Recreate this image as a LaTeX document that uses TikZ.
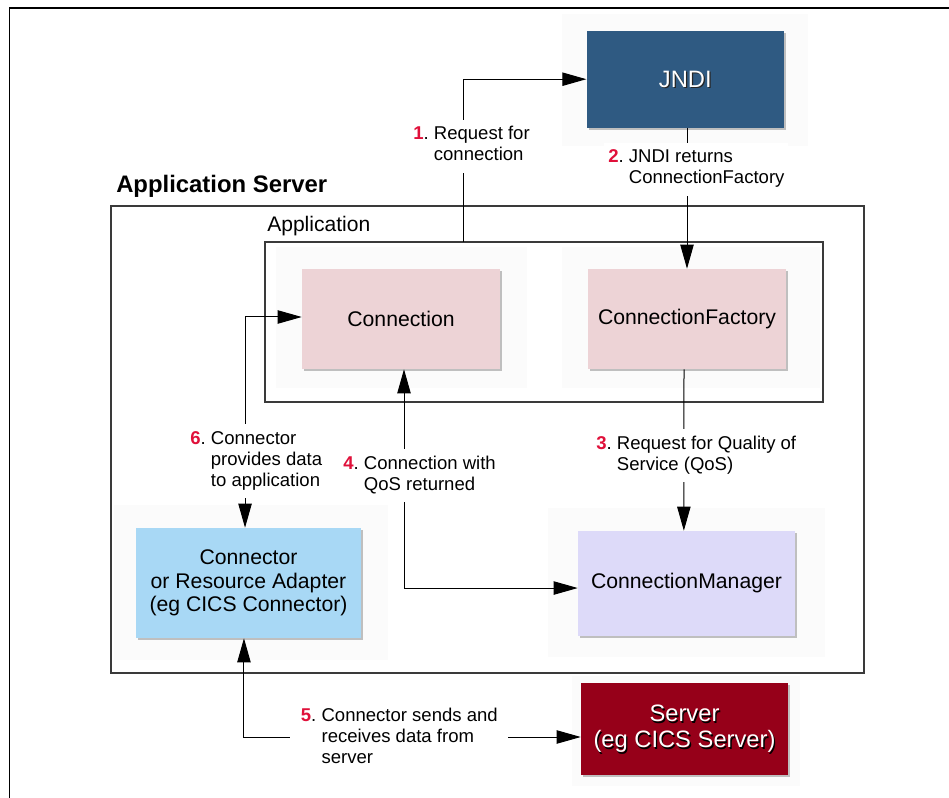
\documentclass[tikz,border=0pt]{standalone}
\usepackage{fontspec}
\setmainfont{Liberation Sans}
\usetikzlibrary{arrows.meta,shadows}
\definecolor{jndiblue}{HTML}{2F5A82}
\definecolor{pinkbox}{HTML}{EDD3D6}
\definecolor{lavbox}{HTML}{DDDAF9}
\definecolor{bluebox}{HTML}{A8D8F5}
\definecolor{serverred}{HTML}{960019}
\definecolor{numred}{HTML}{E0103A}
\definecolor{halogray}{HTML}{FBFBFB}
\definecolor{framegray}{HTML}{3A3A3A}
\newcommand{\stepnum}[1]{\textcolor{numred}{\textbf{#1}}.\kern0.28em}
\tikzset{
  halo/.style={fill=halogray, draw=none},
  frame/.style={draw=framegray, line width=1pt, inner sep=0pt},
  box/.style={draw=none, inner sep=0pt, align=center,
    font=\fontsize{15.9}{17.6}\selectfont,
    drop shadow={shadow xshift=1.6pt, shadow yshift=-1.6pt, opacity=0.4, fill=black!60}},
  bigtext/.style={font=\fontsize{17.8}{19.5}\selectfont, align=center, inner sep=0pt},
  conn/.style={draw=black, line width=0.75pt},
  arr/.style={conn, -{Triangle[length=18pt,width=10pt]}},
  arrboth/.style={conn, {Triangle[length=18pt,width=10pt]}-{Triangle[length=18pt,width=10pt]}},
  lab/.style={fill=white, inner xsep=3pt, inner ysep=4pt, anchor=base west,
    font=\fontsize{13.9}{15.75}\selectfont}
}
\begin{document}
\begin{tikzpicture}[x=0.75pt,y=-0.75pt]
\useasboundingbox (0,0) rectangle (949,798);
% outer frame (cut by the page)
\draw[line width=1.1pt] (9.5,798) -- (9.5,8) -- (949,8);

% faint halos
\fill[halo] (562,14) rectangle (808,146);
\fill[halo] (276,247) rectangle (527,388);
\fill[halo] (562,247) rectangle (820,388);
\fill[halo] (548,508) rectangle (825,657);
\fill[halo] (114,505) rectangle (388,660);
\fill[halo] (572,676) rectangle (800,786);

% containers
\node[frame, minimum width=564.75pt, minimum height=350.25pt] (appserver) at (487.5,439.5) {};
\node[frame, minimum width=418.5pt, minimum height=120pt] (app) at (544,322) {};
\node[anchor=base west, inner sep=0pt, font=\bfseries\fontsize{17.9}{20}\selectfont] (astitle) at (116,193) {Application Server};
\node[anchor=base west, inner sep=0pt, font=\fontsize{15.8}{18}\selectfont] (applabel) at (267,232) {Application};

% boxes
\node[box, fill=jndiblue, minimum width=148pt, minimum height=72.75pt] (jndi) at (685.3,79.2) {};
\node[bigtext, text=black!85] (jndishadow) at ([xshift=0.9pt,yshift=-0.9pt]jndi.center) {JNDI};
\node[bigtext, text=white] (jnditext) at (jndi.center) {JNDI};

\node[box, fill=pinkbox, minimum width=148.5pt, minimum height=75pt] (conn) at (401,319) {Connection};
\node[box, fill=pinkbox, minimum width=148.5pt, minimum height=75pt] (cf) at (687,319) {ConnectionFactory};
\node[box, fill=lavbox, minimum width=162.75pt, minimum height=78.75pt] (cm) at (686.5,583.5) {ConnectionManager};
\node[box, fill=bluebox, minimum width=168.75pt, minimum height=82.5pt] (connector) at (248.5,583) {Connector\\or Resource Adapter\\(eg CICS Connector)};

\node[box, fill=serverred, minimum width=155.25pt, minimum height=69pt] (server) at (684.5,729) {};
\node[bigtext, text=black] (servershadow) at ([xshift=1pt,yshift=-1pt]server.center) {Server\\(eg CICS Server)};
\node[bigtext, text=white] (servertext) at (server.center) {Server\\(eg CICS Server)};

% connectors
\coordinate (c1) at (463.4,242);
\draw[arr] (c1) |- (jndi.west);
\draw[arr] (jndi.south -| cf.north) -- (cf.north);
\draw[arr] ([xshift=-2.25pt]cf.south) -- ([xshift=-2pt]cm.north);
\draw[arrboth] ([xshift=2.25pt]conn.south) |- ([yshift=-3.4pt]cm.west);
\draw[arrboth] ([yshift=1.5pt]conn.west) -| ([xshift=-2.6pt]connector.north);
\draw[arrboth] ([xshift=-3.4pt]connector.south) |- ([yshift=-6pt]server.west);

% labels
\node[lab] (l1) at (409,140) {\begin{tabular}[t]{@{}l@{}l@{}}\stepnum{1}&Request for\\&connection\end{tabular}};
\node[lab] (l2) at (604,163) {\begin{tabular}[t]{@{}l@{}l@{}}\stepnum{2}&JNDI returns\\&ConnectionFactory\end{tabular}};
\node[lab] (l3) at (592,449) {\begin{tabular}[t]{@{}l@{}l@{}}\stepnum{3}&Request for Quality of\\&Service (QoS)\end{tabular}};
\node[lab] (l4) at (339,469) {\begin{tabular}[t]{@{}l@{}l@{}}\stepnum{4}&Connection with\\&QoS returned\end{tabular}};
\node[lab] (l6) at (186,444) {\begin{tabular}[t]{@{}l@{}l@{}}\stepnum{6}&Connector\\&provides data\\&to application\end{tabular}};
\node[lab, inner xsep=8pt] (l5) at (290,721) {\begin{tabular}[t]{@{}l@{}l@{}}\stepnum{5}&Connector sends and\\&receives data from\\&server\end{tabular}};
\end{tikzpicture}
\end{document}
